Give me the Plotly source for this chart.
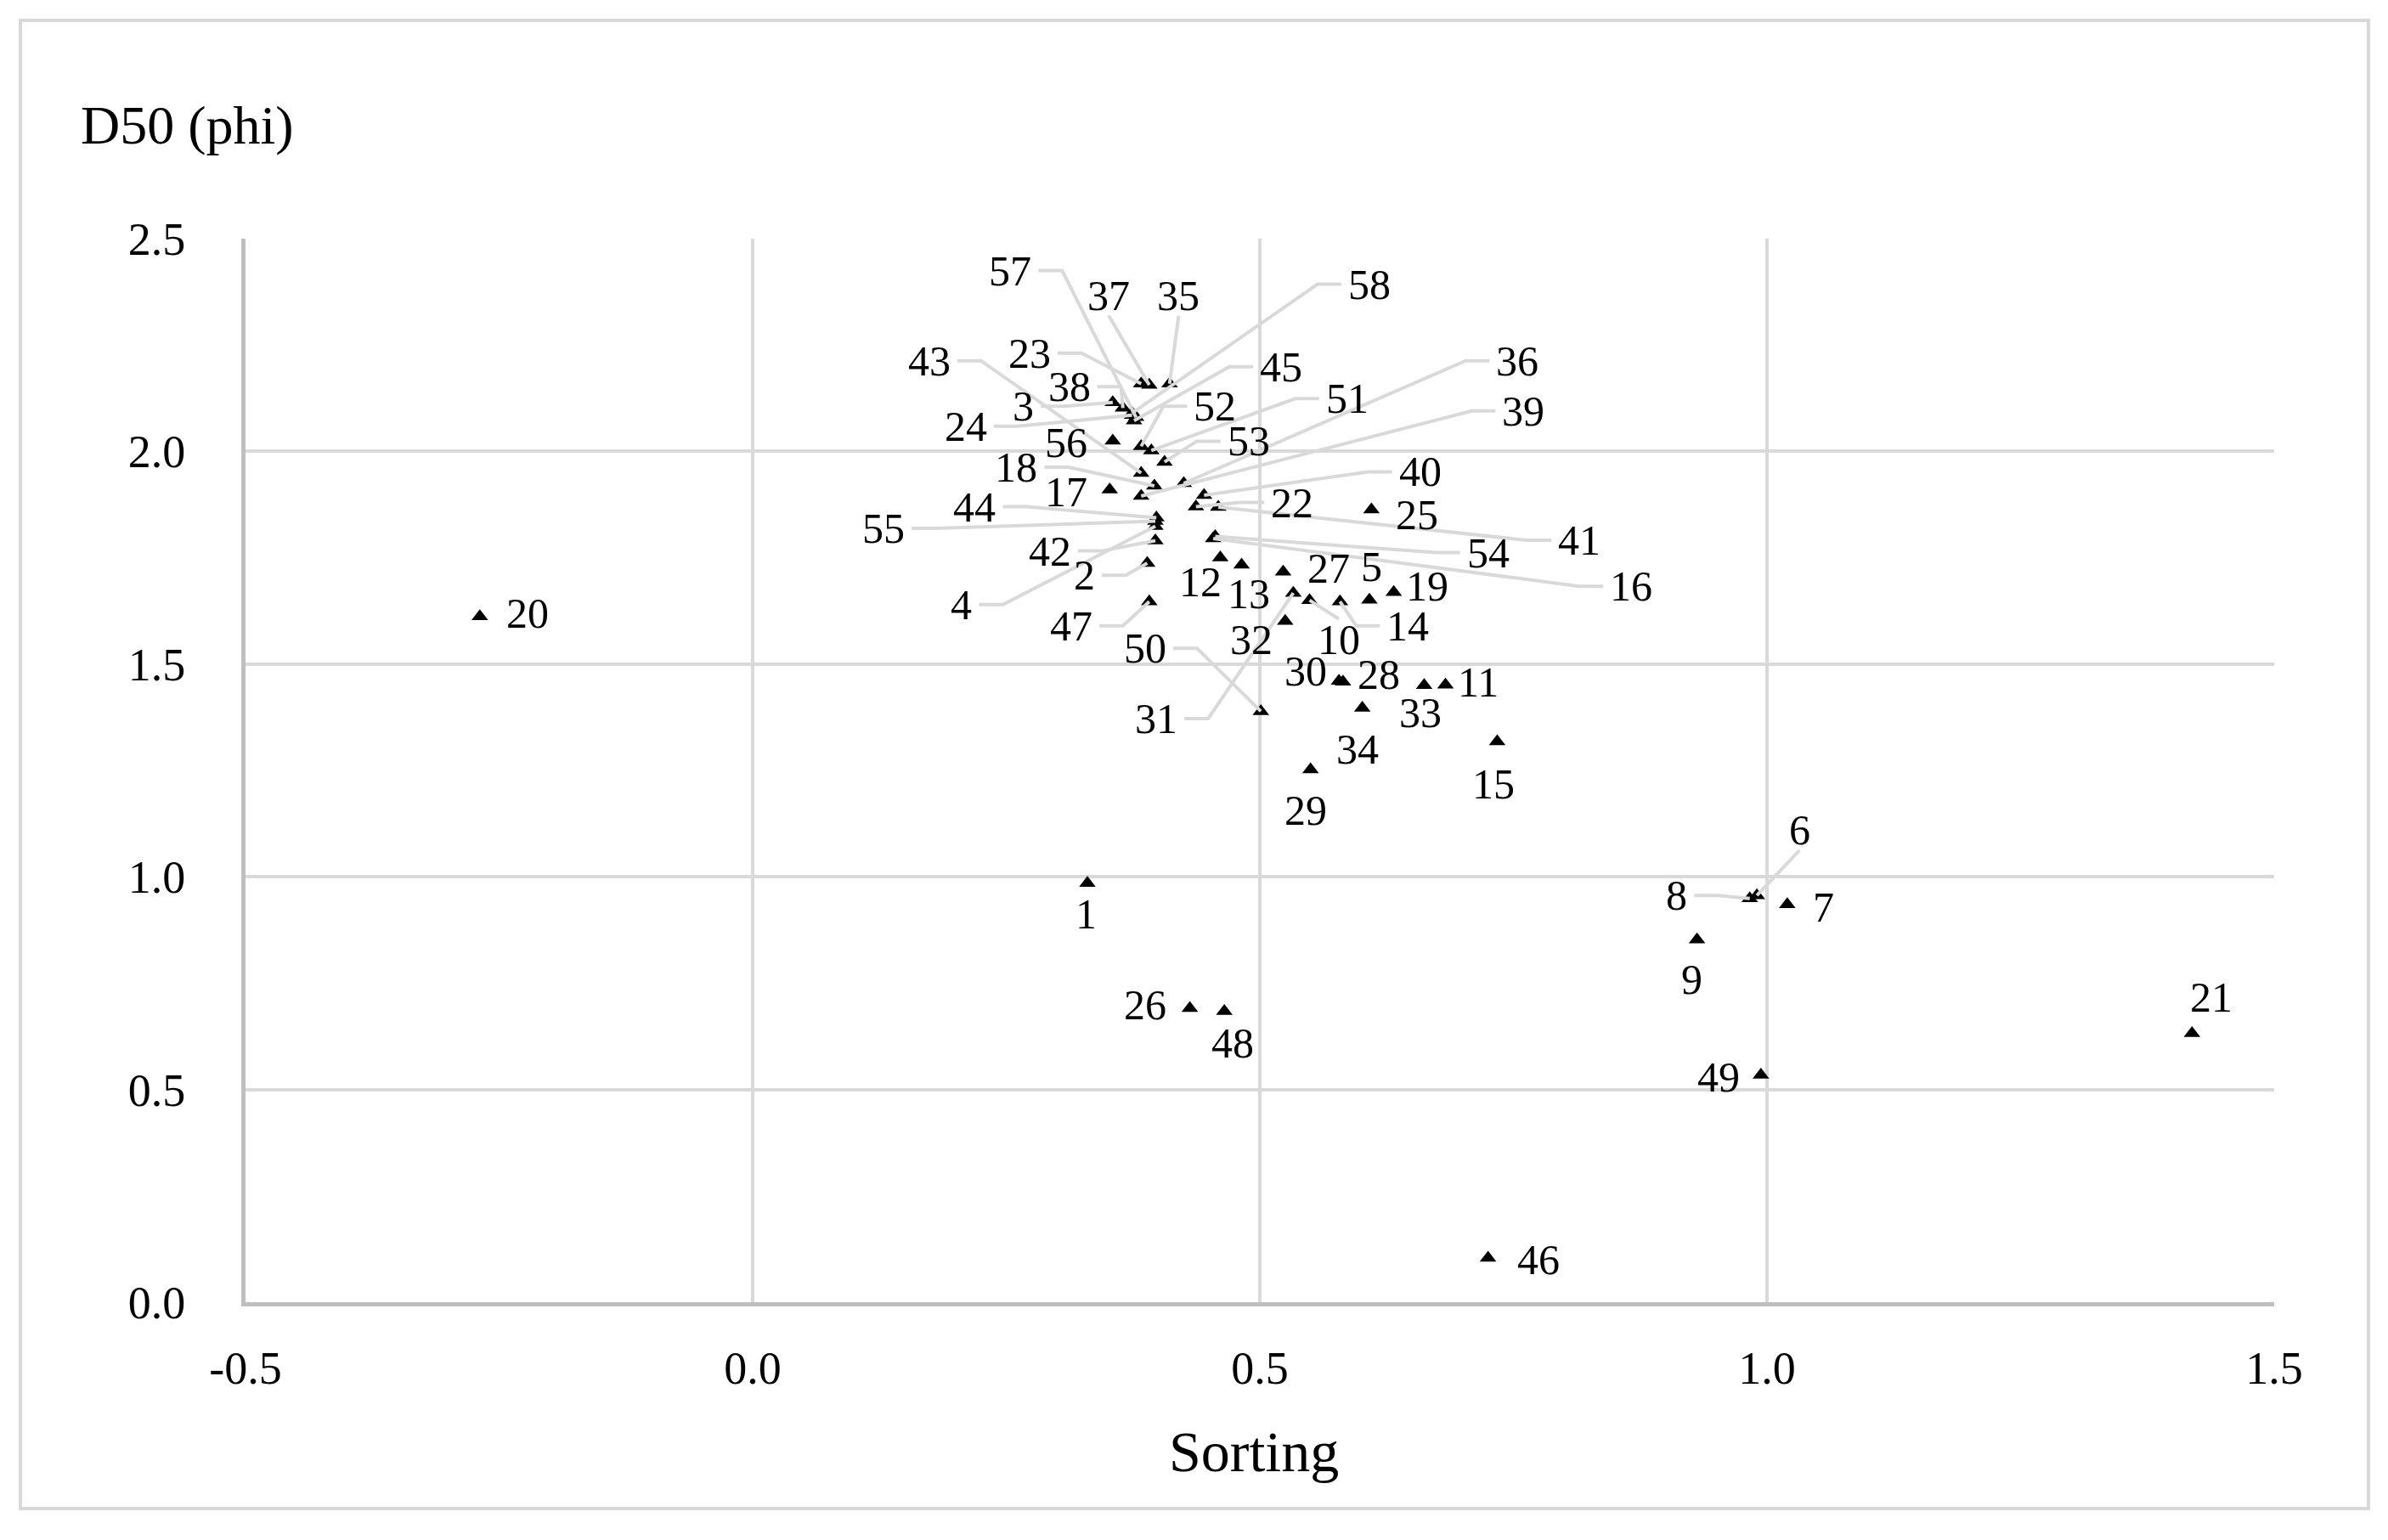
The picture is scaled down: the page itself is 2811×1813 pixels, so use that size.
import plotly.graph_objects as go

# sample ids, sorting (x) and D50 in phi (y)
sample_ids = list(range(1, 59))
sorting = [0.330, 0.389, 0.355, 0.397, 0.608, 0.990, 1.020, 0.983, 0.931, 0.549,
           0.683, 0.461, 0.482, 0.579, 0.734, 0.454, 0.352, 0.396, 0.632, -0.269,
           1.419, 0.437, 0.383, 0.374, 0.610, 0.431, 0.523, 0.582, 0.550, 0.578,
           0.533, 0.525, 0.662, 0.601, 0.411, 0.425, 0.391, 0.365, 0.383, 0.445,
           0.459, 0.397, 0.383, 0.398, 0.376, 0.725, 0.391, 0.465, 0.994, 0.501,
           0.393, 0.383, 0.406, 0.456, 0.397, 0.355, 0.378, 0.374]
d50_phi = [0.985, 1.737, 2.115, 1.824, 1.651, 0.956, 0.935, 0.949, 0.852, 1.650,
           1.451, 1.750, 1.733, 1.647, 1.318, 1.795, 1.910, 1.919, 1.669, 1.612,
           0.632, 1.870, 2.159, 2.085, 1.863, 0.691, 1.717, 1.458, 1.252, 1.460,
           1.667, 1.601, 1.450, 1.397, 2.159, 1.925, 2.156, 2.102, 1.895, 1.897,
           1.869, 1.790, 1.949, 1.844, 2.072, 0.104, 1.647, 0.684, 0.534, 1.389,
           2.002, 2.012, 1.975, 1.800, 1.836, 2.025, 2.080, 2.090]

x_ticks = [-0.5, 0.0, 0.5, 1.0, 1.5]
x_ticktext = ["-0.5", "0.0", "0.5", "1.0", "1.5"]
y_ticks = [0.0, 0.5, 1.0, 1.5, 2.0, 2.5]
y_ticktext = ["0.0", "0.5", "1.0", "1.5", "2.0", "2.5"]

# label placement (data units) and leader style: None, "h" (elbow) or "v" (straight)
label_pos = {
    1: (0.329, 0.913, None), 2: (0.327, 1.709, "h"), 3: (0.267, 2.106, "h"),
    4: (0.206, 1.640, "h"), 5: (0.610, 1.730, None), 6: (1.032, 1.110, "v"),
    7: (1.056, 0.928, None), 8: (0.911, 0.956, "h"), 9: (0.926, 0.759, None),
    10: (0.578, 1.558, "v"), 11: (0.715, 1.458, None), 12: (0.441, 1.694, None),
    13: (0.489, 1.665, None), 14: (0.646, 1.590, "h"), 15: (0.730, 1.218, None),
    16: (0.866, 1.683, "h"), 17: (0.309, 1.905, None), 18: (0.260, 1.963, "h"),
    19: (0.665, 1.683, None), 20: (-0.222, 1.619, None), 21: (1.438, 0.716, None),
    22: (0.532, 1.880, "h"), 23: (0.273, 2.231, "h"), 24: (0.210, 2.059, "h"),
    25: (0.655, 1.852, None), 26: (0.387, 0.698, None), 27: (0.568, 1.726, None),
    28: (0.617, 1.476, None), 29: (0.545, 1.157, None), 30: (0.545, 1.483, None),
    31: (0.398, 1.372, "h"), 32: (0.492, 1.558, None), 33: (0.658, 1.386, None),
    34: (0.596, 1.300, None), 35: (0.420, 2.367, "v"), 36: (0.754, 2.213, "h"),
    37: (0.351, 2.367, "v"), 38: (0.312, 2.152, "h"), 39: (0.760, 2.095, "h"),
    40: (0.658, 1.952, "h"), 41: (0.815, 1.791, "h"), 42: (0.293, 1.766, "h"),
    43: (0.174, 2.213, "h"), 44: (0.219, 1.870, "h"), 45: (0.521, 2.199, "h"),
    46: (0.775, 0.100, None), 47: (0.314, 1.590, "h"), 48: (0.473, 0.609, None),
    49: (0.952, 0.530, None), 50: (0.387, 1.537, "h"), 51: (0.586, 2.124, "h"),
    52: (0.456, 2.106, "h"), 53: (0.489, 2.024, "h"), 54: (0.725, 1.762, "h"),
    55: (0.129, 1.819, "h"), 56: (0.309, 2.020, None), 57: (0.254, 2.425, "h"),
    58: (0.608, 2.393, "h"),
}

W, H = 2811, 1813
OFF = 8  # page body margin
L, R, T, B = 289, 134, 281, 280
pw, ph = W - L - R, H - T - B
PX_X = pw / 2.0   # pixels per x unit
PX_Y = ph / 2.5   # pixels per y unit
SERIF = "Liberation Serif, Times New Roman, serif"
GRID = "#d9d9d9"
LBL_SIZE = 50

fig = go.Figure()
fig.add_trace(go.Scatter(
    x=sorting, y=d50_phi, mode="markers",
    marker=dict(symbol="triangle-up", size=17, color="black"),
    text=[str(s) for s in sample_ids], hoverinfo="text+x+y",
    showlegend=False,
))

annotations = []
for sid, xv, yv in zip(sample_ids, sorting, d50_phi):
    lx, ly, leader = label_pos[sid]
    annotations.append(dict(
        x=lx, y=ly, xref="x", yref="y", text=str(sid), showarrow=False,
        xanchor="center", yanchor="middle",
        font=dict(family=SERIF, size=LBL_SIZE, color="black"),
    ))
    if leader == "h":
        half = len(str(sid)) * 0.25 * LBL_SIZE + 8
        side = 1 if xv > lx else -1
        x0 = lx + side * half / PX_X
        x1 = x0 + side * 28 / PX_X
        fig.add_shape(type="path", xref="x", yref="y",
                      path=f"M {x0},{ly} L {x1},{ly} L {xv},{yv}",
                      line=dict(color=GRID, width=4))
    elif leader == "v":
        side = 1 if yv > ly else -1
        y0 = ly + side * 24 / PX_Y
        fig.add_shape(type="line", xref="x", yref="y",
                      x0=lx, y0=y0, x1=xv, y1=yv,
                      line=dict(color=GRID, width=4))

# axis titles
annotations.append(dict(x=(1476 - L) / pw, y=-(1709 - (H - B)) / ph, xref="paper", yref="paper",
                        text="Sorting", showarrow=False, xanchor="center", yanchor="middle",
                        font=dict(family=SERIF, size=68, color="black")))
annotations.append(dict(x=(93 - L) / pw, y=((H - B) - 147) / ph, xref="paper", yref="paper",
                        text="D50 (phi)", showarrow=False, xanchor="left", yanchor="middle",
                        font=dict(family=SERIF, size=64, color="black")))

# outer chart border
fig.add_shape(type="rect", xref="paper", yref="paper",
              x0=(24 - L) / pw, x1=(2788 - L) / pw,
              y0=((H - B) - 1776) / ph, y1=((H - B) - 24) / ph,
              line=dict(color=GRID, width=4))

fig.update_layout(
    width=W, height=H,
    margin=dict(l=L - OFF, r=R + OFF, t=T - OFF, b=B + OFF),
    paper_bgcolor="white", plot_bgcolor="white",
    font=dict(family=SERIF, size=54, color="black"),
    annotations=annotations,
)
fig.update_xaxes(range=[-0.5, 1.5], tickvals=x_ticks, ticktext=x_ticktext,
                 showgrid=True, gridcolor=GRID, gridwidth=4, zeroline=False,
                 showline=True, linecolor="#bfbfbf", linewidth=5,
                 ticks="", ticklabelstandoff=26,
                 tickfont=dict(family=SERIF, size=54, color="black"))
fig.update_yaxes(range=[0, 2.5], tickvals=y_ticks, ticktext=y_ticktext,
                 showgrid=True, gridcolor=GRID, gridwidth=4, zeroline=False,
                 showline=True, linecolor="#bfbfbf", linewidth=5,
                 ticks="", ticklabelstandoff=55,
                 tickfont=dict(family=SERIF, size=54, color="black"))

fig.write_html("out.html")
